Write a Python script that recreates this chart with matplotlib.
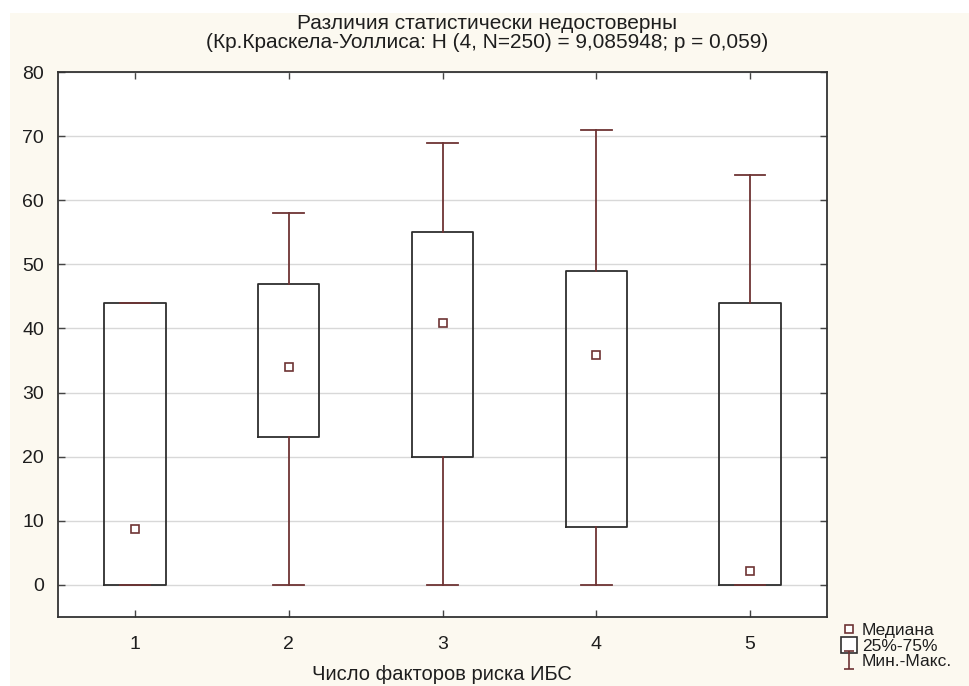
import matplotlib
matplotlib.use("Agg")
import matplotlib.pyplot as plt
from matplotlib.patches import Rectangle
from matplotlib.lines import Line2D
from matplotlib.path import Path

plt.rcParams['font.family'] = ['Liberation Sans', 'DejaVu Sans']

# Group data: number of CHD risk factors
groups = [1, 2, 3, 4, 5]
mins = [0, 0, 0, 0, 0]
q1 = [0, 23, 20, 9, 0]
medians = [8.7, 34, 40.9, 35.9, 2.2]
q3 = [44, 47, 55, 49, 44]
maxs = [44, 58, 69, 71, 64]
y_ticks = [0, 10, 20, 30, 40, 50, 60, 70, 80]

title = ("Различия статистически недостоверны\n"
         "(Кр.Краскела-Уоллиса: H (4, N=250) = 9,085948; p = 0,059)")
xlabel = "Число факторов риска ИБС"
legend_labels = ["Медиана", "25%-75%", "Мин.-Макс."]

whisk_color = "#6e3434"
box_color = "#2e2e2e"
text_color = "#1e1e1e"
bg = "#fcf9f0"

fig = plt.figure(figsize=(9.69, 6.86), dpi=100, facecolor="white")
fig.patches.append(Rectangle((10 / 969, 0), 1, 1 - 13 / 686, transform=fig.transFigure,
                             facecolor=bg, edgecolor="none", zorder=-10))

ax = fig.add_axes([58 / 969, 69 / 686, (827 - 58) / 969, (617 - 72) / 686])
ax.set_facecolor("white")

stats = []
for g, lo, a, m, b, hi in zip(groups, mins, q1, medians, q3, maxs):
    stats.append(dict(label=str(g), whislo=lo, q1=a, med=m, q3=b, whishi=hi, fliers=[]))

ax.bxp(stats, positions=groups, widths=0.4, showfliers=False, patch_artist=False,
       boxprops=dict(color=box_color, linewidth=1.3),
       whiskerprops=dict(color=whisk_color, linewidth=1.3),
       capprops=dict(color=whisk_color, linewidth=1.3),
       medianprops=dict(linewidth=0, alpha=0), capwidths=0.2, zorder=3)

ax.plot(groups, medians, linestyle="none", marker="s", markersize=6,
        markerfacecolor="white", markeredgecolor=whisk_color, markeredgewidth=1.2, zorder=4)

ax.set_xlim(0.5, 5.5)
ax.set_ylim(-5, 80)
ax.set_yticks(y_ticks)
ax.set_xticks(groups)
ax.set_xticklabels([str(g) for g in groups])
ax.yaxis.grid(True, color="#d8d8d8", linewidth=1)
ax.set_axisbelow(True)
ax.tick_params(direction="in", top=True, right=True, length=5, width=1,
               color="#444444", labelsize=14, labelcolor=text_color)
ax.tick_params(axis="y", pad=10)
ax.tick_params(axis="x", pad=14)
for s in ax.spines.values():
    s.set_color("#333333")
    s.set_linewidth(1.3)

fig.text(487 / 969, 1 - 33 / 686, title, ha="center", va="center", fontsize=15,
         color=text_color, linespacing=0.98)
fig.text(442 / 969, 1 - 675 / 686, xlabel, ha="center", va="center", fontsize=14.5,
         color=text_color)

# I-beam marker for the range symbol
ibeam = Path([(-0.5, 1), (0.5, 1), (0, 1), (0, -1), (-0.5, -1), (0.5, -1)],
             [Path.MOVETO, Path.LINETO, Path.MOVETO, Path.LINETO, Path.MOVETO, Path.LINETO])
handles = [
    Line2D([], [], linestyle="none", marker="s", markersize=6, markerfacecolor="white",
           markeredgecolor=whisk_color, markeredgewidth=1.2),
    Line2D([], [], linestyle="none", marker="s", markersize=11, markerfacecolor="white",
           markeredgecolor=box_color, markeredgewidth=1.2),
    Line2D([], [], linestyle="none", marker=ibeam, markersize=13, markerfacecolor="none",
           markeredgecolor=whisk_color, markeredgewidth=1.2),
]
fig.legend(handles, legend_labels, loc="upper left", bbox_to_anchor=(829 / 969, 1 - 611 / 686),
           frameon=False, fontsize=12.5, handlelength=0.9, handletextpad=0.3,
           labelspacing=0.02, borderpad=0.2, labelcolor=text_color)

fig.savefig("out.png", dpi=100, facecolor=fig.get_facecolor())
